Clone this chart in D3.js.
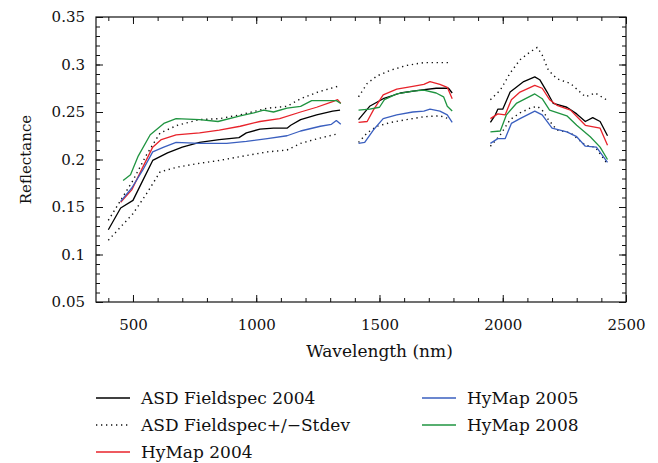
<!DOCTYPE html>
<html>
<head>
<meta charset="utf-8">
<script src="https://cdn.jsdelivr.net/npm/d3@7"></script>
<style>
  body { margin: 0; background: white; }
  text { font-family: "DejaVu Serif", "Liberation Serif", serif; fill: #111; }
</style>
</head>
<body>
<div id="visualization"></div>
<script>
let w = 658;
let h = 463;
let plotLeft = 96, plotRight = 626, plotTop = 17, plotBottom = 302;

// wavelengths (nm) and reflectance per series, null = gap (water absorption bands)
let asdWl = [400, 450, 500, 540, 580, 640, 700, 770, 850, 930, 960, 1015, 1070, 1125, 1140, 1180, 1245, 1310, 1340, null,
  1415, 1460, 1515, 1585, 1665, 1730, 1780, 1795, null,
  1950, 1970, 1980, 2000, 2030, 2055, 2085, 2130, 2150, 2180, 2205, 2260, 2300, 2335, 2365, 2395, 2425];
let asd2004 = [0.126, 0.149, 0.157, 0.178, 0.199, 0.207, 0.213, 0.218, 0.221, 0.223, 0.228, 0.232, 0.233, 0.233, 0.236, 0.242, 0.247, 0.251, 0.252, null,
  0.242, 0.256, 0.264, 0.270, 0.273, 0.275, 0.275, 0.270, null,
  0.239, 0.247, 0.253, 0.253, 0.271, 0.276, 0.282, 0.287, 0.284, 0.271, 0.259, 0.255, 0.248, 0.240, 0.244, 0.240, 0.225];

let sdWl = [400, 450, 500, 555, 610, 680, 770, 850, 935, 1045, 1125, 1180, 1250, 1330, null,
  1415, 1450, 1490, 1545, 1610, 1680, 1745, 1780, null,
  1950, 1990, 2030, 2070, 2110, 2140, 2160, 2185, 2220, 2275, 2335, 2375, 2420];
let asdPlusSd = [0.136, 0.157, 0.178, 0.205, 0.228, 0.236, 0.242, 0.243, 0.247, 0.254, 0.256, 0.264, 0.271, 0.277, null,
  0.266, 0.280, 0.288, 0.294, 0.299, 0.302, 0.302, 0.302, null,
  0.263, 0.273, 0.291, 0.305, 0.313, 0.318, 0.310, 0.294, 0.285, 0.280, 0.266, 0.270, 0.263];
let asdMinusSd = [0.115, 0.129, 0.143, 0.164, 0.187, 0.192, 0.196, 0.199, 0.203, 0.208, 0.210, 0.217, 0.222, 0.227, null,
  0.218, 0.228, 0.235, 0.239, 0.242, 0.245, 0.246, 0.243, null,
  0.214, 0.226, 0.242, 0.249, 0.254, 0.256, 0.252, 0.242, 0.231, 0.228, 0.215, 0.213, 0.197];

let hy04Wl = [450, 495, 540, 580, 615, 675, 770, 850, 935, 1015, 1095, 1180, 1245, 1310, 1330, 1343, null,
  1415, 1450, 1475, 1515, 1570, 1635, 1680, 1705, 1745, 1775, 1795, null,
  1950, 1980, 2010, 2035, 2070, 2130, 2160, 2190, 2220, 2275, 2335, 2395, 2425];
let hymap2004 = [0.155, 0.168, 0.192, 0.213, 0.221, 0.226, 0.228, 0.231, 0.235, 0.240, 0.243, 0.250, 0.255, 0.261, 0.263, 0.259, null,
  0.239, 0.240, 0.252, 0.268, 0.274, 0.277, 0.279, 0.282, 0.279, 0.276, 0.264, null,
  0.243, 0.248, 0.247, 0.263, 0.271, 0.278, 0.275, 0.263, 0.257, 0.252, 0.236, 0.233, 0.215];

let hy05Wl = [450, 495, 540, 580, 625, 675, 770, 880, 960, 1045, 1125, 1180, 1260, 1305, 1325, 1343, null,
  1415, 1440, 1475, 1515, 1570, 1635, 1680, 1705, 1745, 1775, 1795, null,
  1950, 1980, 2010, 2035, 2070, 2130, 2160, 2200, 2260, 2300, 2335, 2380, 2425];
let hymap2005 = [0.156, 0.170, 0.189, 0.208, 0.213, 0.218, 0.217, 0.217, 0.219, 0.222, 0.225, 0.230, 0.235, 0.237, 0.241, 0.237, null,
  0.217, 0.218, 0.231, 0.243, 0.247, 0.250, 0.251, 0.253, 0.251, 0.247, 0.239, null,
  0.217, 0.222, 0.222, 0.238, 0.243, 0.251, 0.247, 0.233, 0.229, 0.224, 0.214, 0.213, 0.197];

let hy08Wl = [460, 490, 520, 570, 625, 675, 770, 845, 935, 990, 1030, 1070, 1125, 1180, 1225, 1285, 1325, 1343, null,
  1415, 1460, 1500, 1520, 1570, 1635, 1680, 1730, 1760, 1775, 1795, null,
  1950, 1990, 2015, 2055, 2130, 2160, 2190, 2260, 2300, 2355, 2395, 2425];
let hymap2008 = [0.178, 0.184, 0.203, 0.226, 0.238, 0.243, 0.242, 0.240, 0.246, 0.249, 0.252, 0.250, 0.254, 0.256, 0.262, 0.262, 0.262, 0.259, null,
  0.252, 0.253, 0.255, 0.263, 0.269, 0.272, 0.273, 0.270, 0.266, 0.256, 0.251, null,
  0.229, 0.230, 0.247, 0.259, 0.269, 0.264, 0.252, 0.246, 0.236, 0.224, 0.213, 0.200];

let xTicks = [500, 1000, 1500, 2000, 2500];
let yTicks = [0.05, 0.1, 0.15, 0.2, 0.25, 0.3, 0.35];

let series = [
  {name: "ASD Fieldspec+/\u2212Stdev", wl: sdWl, vals: asdPlusSd, color: "#111", dash: "1.3,3.7"},
  {name: null, wl: sdWl, vals: asdMinusSd, color: "#111", dash: "1.3,3.7"},
  {name: "ASD Fieldspec 2004", wl: asdWl, vals: asd2004, color: "#000", dash: null},
  {name: "HyMap 2004", wl: hy04Wl, vals: hymap2004, color: "#e8232b", dash: null},
  {name: "HyMap 2005", wl: hy05Wl, vals: hymap2005, color: "#3a5fbf", dash: null},
  {name: "HyMap 2008", wl: hy08Wl, vals: hymap2008, color: "#1f9440", dash: null}
];

let viz = d3.select("#visualization")
  .append("svg")
  .attr("width", w)
  .attr("height", h)
  .style("background-color", "white");

let xScale = d3.scaleLinear().domain([350, 2500]).range([plotLeft, plotRight]);
let yScale = d3.scaleLinear().domain([0.05, 0.35]).range([plotBottom, plotTop]);

// minor ticks on all four sides, pointing inward
let minorX = d3.range(400, 2501, 100);
let minorY = d3.range(5, 36).map(d => d / 100);

function axisGroup(axis, tx, ty) {
  let g = viz.append("g").attr("transform", "translate(" + tx + "," + ty + ")").call(axis);
  g.select(".domain").remove();
  g.selectAll("line").attr("stroke", "#111").attr("stroke-width", 1);
  g.selectAll("text").style("font-size", "15px").attr("fill", "#111");
  return g;
}

axisGroup(d3.axisBottom(xScale).tickValues(minorX).tickSize(-4).tickFormat(""), 0, plotBottom);
axisGroup(d3.axisTop(xScale).tickValues(minorX).tickSize(-4).tickFormat(""), 0, plotTop);
axisGroup(d3.axisLeft(yScale).tickValues(minorY).tickSize(-4).tickFormat(""), plotLeft, 0);
axisGroup(d3.axisRight(yScale).tickValues(minorY).tickSize(-4).tickFormat(""), plotRight, 0);

axisGroup(d3.axisBottom(xScale).tickValues(xTicks).tickSize(-7).tickPadding(17).tickFormat(d3.format("d")), 0, plotBottom);
axisGroup(d3.axisTop(xScale).tickValues(xTicks).tickSize(-7).tickFormat(""), 0, plotTop);
axisGroup(d3.axisLeft(yScale).tickValues(yTicks).tickSize(-7).tickPadding(11).tickFormat(d => String(+d.toFixed(2))), plotLeft, 0);
axisGroup(d3.axisRight(yScale).tickValues(yTicks).tickSize(-7).tickFormat(""), plotRight, 0);

// frame
viz.append("rect")
  .attr("x", plotLeft).attr("y", plotTop)
  .attr("width", plotRight - plotLeft).attr("height", plotBottom - plotTop)
  .attr("fill", "none").attr("stroke", "#111").attr("stroke-width", 1.2);

// lines
let line = d3.line()
  .defined(d => d[1] != null)
  .x(d => xScale(d[0]))
  .y(d => yScale(d[1]));

viz.selectAll(".spectrum").data(series).enter()
  .append("path")
  .attr("class", "spectrum")
  .attr("d", s => line(s.wl.map((wl, i) => [wl, s.vals[i]])))
  .attr("fill", "none")
  .attr("stroke", s => s.color)
  .attr("stroke-width", s => s.dash ? 1.4 : 1.3)
  .attr("stroke-dasharray", s => s.dash)
  .attr("stroke-linejoin", "round");

// axis titles (x title sits centred under the 1500 nm tick, as in the figure)
viz.append("text")
  .attr("x", xScale(1500)).attr("y", 357)
  .attr("text-anchor", "middle")
  .style("font-size", "17px")
  .text("Wavelength (nm)");

viz.append("text")
  .attr("transform", "translate(31," + ((plotTop + plotBottom) / 2) + ") rotate(-90)")
  .attr("text-anchor", "middle")
  .style("font-size", "15px")
  .text("Reflectance");

// legend
let legendItems = [
  {name: "ASD Fieldspec 2004", color: "#000", dash: null, col: 0, row: 0},
  {name: "ASD Fieldspec+/\u2212Stdev", color: "#111", dash: "1.3,3.7", col: 0, row: 1},
  {name: "HyMap 2004", color: "#e8232b", dash: null, col: 0, row: 2},
  {name: "HyMap 2005", color: "#3a5fbf", dash: null, col: 1, row: 0},
  {name: "HyMap 2008", color: "#1f9440", dash: null, col: 1, row: 1}
];
let colX = [96, 422];
let legend = viz.selectAll(".legend").data(legendItems).enter()
  .append("g")
  .attr("class", "legend")
  .attr("transform", d => "translate(" + colX[d.col] + "," + (398 + d.row * 27) + ")");

legend.append("line")
  .attr("x1", 0).attr("x2", 34)
  .attr("stroke", d => d.color)
  .attr("stroke-width", 1.3)
  .attr("stroke-dasharray", d => d.dash);

legend.append("text")
  .attr("x", 45).attr("dy", "0.35em")
  .style("font-size", "17px")
  .text(d => d.name);
</script>
</body>
</html>
